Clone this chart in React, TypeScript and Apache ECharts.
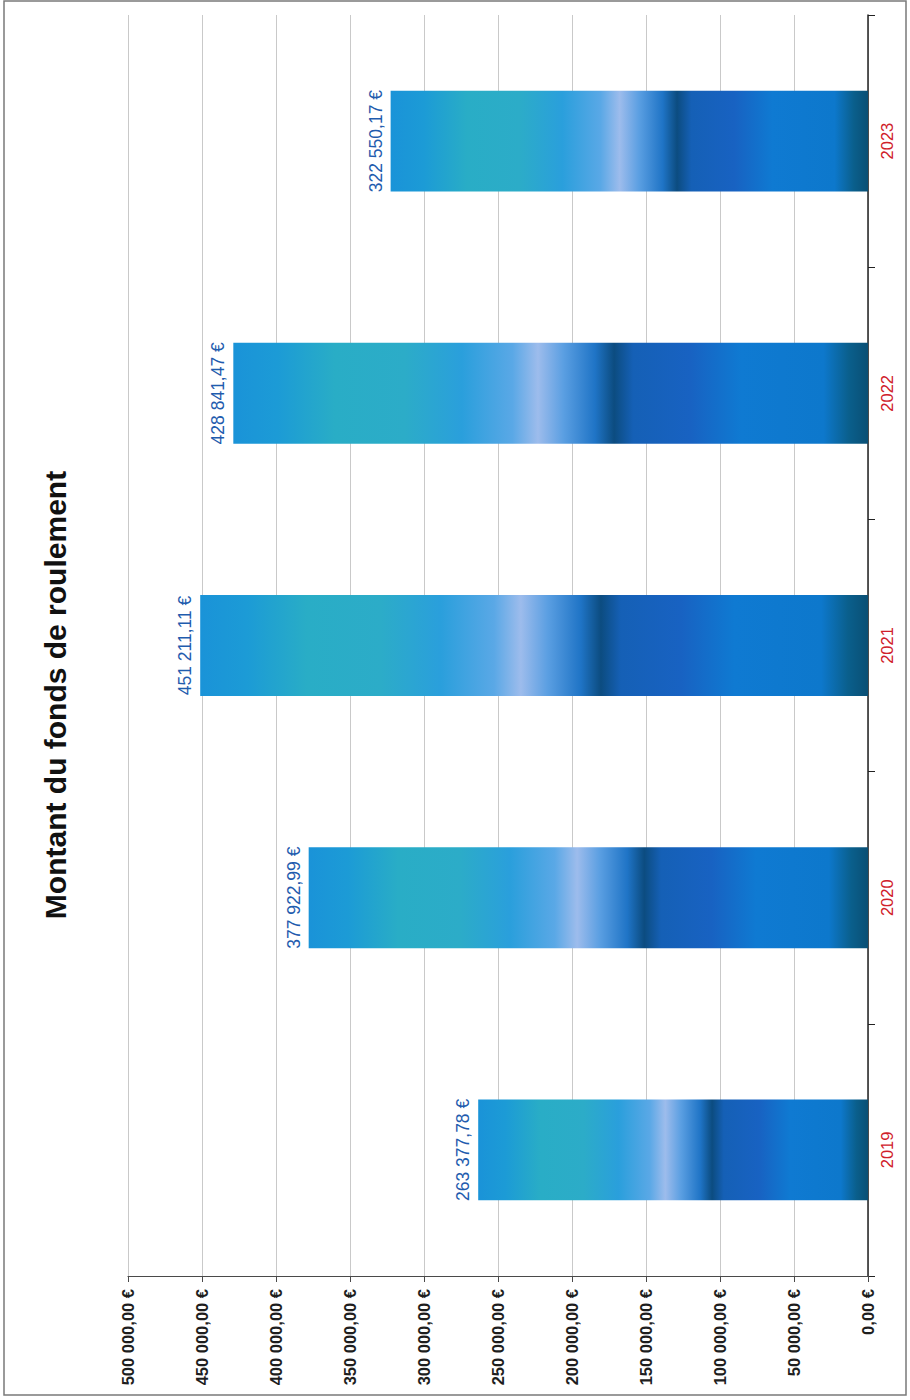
import React, { useEffect, useRef } from "react";
import * as echarts from "echarts";

const years = ["2019", "2020", "2021", "2022", "2023"];
const amounts = [263377.78, 377922.99, 451211.11, 428841.47, 322550.17];
const axisMin = 0;
const axisMax = 500000;
const axisStep = 50000;
const title = "Montant du fonds de roulement";

const fr = (v: number) => {
  const [i, d] = v.toFixed(2).split(".");
  return i.replace(/\B(?=(\d{3})+(?!\d))/g, " ") + "," + d + " €";
};

const barGradient = new echarts.graphic.LinearGradient(0, 0, 1, 0, [
  { offset: 0, color: "#1a93d8" },
  { offset: 0.07, color: "#1c9bd6" },
  { offset: 0.16, color: "#29adc6" },
  { offset: 0.27, color: "#2cacc8" },
  { offset: 0.36, color: "#2a9fdc" },
  { offset: 0.44, color: "#5aa8e6" },
  { offset: 0.48, color: "#9dbcec" },
  { offset: 0.52, color: "#5b9fe2" },
  { offset: 0.57, color: "#1f74c6" },
  { offset: 0.6, color: "#0c4c80" },
  { offset: 0.63, color: "#1560b6" },
  { offset: 0.72, color: "#1862c2" },
  { offset: 0.8, color: "#0f7ad2" },
  { offset: 0.93, color: "#0d78cc" },
  { offset: 0.97, color: "#0a5f8c" },
  { offset: 1, color: "#0a4f74" },
]);

export default function App() {
  const ref = useRef<HTMLDivElement>(null);
  useEffect(() => {
    if (!ref.current) return;
    const chart = echarts.init(ref.current, undefined, { renderer: "svg" });
    chart.setOption({
      animation: false,
      backgroundColor: "#ffffff",
      textStyle: { fontFamily: "Liberation Sans, Arial, sans-serif" },
      grid: { left: 128, right: 42, top: 15, bottom: 124, containLabel: false },
      xAxis: {
        type: "value",
        inverse: true,
        min: axisMin,
        max: axisMax,
        interval: axisStep,
        position: "bottom",
        axisLine: { show: true, lineStyle: { color: "#4a4a4a", width: 1.2 } },
        axisTick: { show: true, length: 6, lineStyle: { color: "#4a4a4a" } },
        axisLabel: {
          rotate: 90,
          margin: 13,
          color: "#1e1e1e",
          fontWeight: "bold",
          fontSize: 16.5,
          formatter: (v: number) => fr(v),
        },
        splitLine: { show: true, lineStyle: { color: "#c9c9c9", width: 1 } },
      },
      yAxis: {
        type: "category",
        data: years,
        position: "right",
        axisLine: { show: true, lineStyle: { color: "#222222", width: 1.5 } },
        axisTick: { show: true, length: 7, lineStyle: { color: "#222222" } },
        axisLabel: { rotate: 90, margin: 10, color: "#d0202a", fontSize: 16.5 },
        splitLine: { show: false },
      },
      series: [
        {
          type: "bar",
          data: amounts,
          barWidth: "40%",
          itemStyle: { color: barGradient },
          label: {
            show: true,
            position: "left",
            distance: 6,
            rotate: 90,
            align: "center",
            verticalAlign: "bottom",
            color: "#1f5cae",
            fontSize: 17.5,
            formatter: (p: any) => fr(p.value),
          },
        },
      ],
      graphic: [
        {
          type: "rect",
          shape: { x: 4, y: 1, width: 902, height: 1394 },
          style: { fill: "none", stroke: "#7a7a7a", lineWidth: 1.5 },
          silent: true,
        },
        {
          type: "text",
          x: 55,
          y: 695,
          rotation: Math.PI / 2,
          style: {
            text: title,
            fill: "#111111",
            font: "bold 30px 'Liberation Sans', Arial, sans-serif",
            textAlign: "center",
            textVerticalAlign: "middle",
          },
        },
      ],
    });
    return () => chart.dispose();
  }, []);
  return (
    <div
      ref={ref}
      style={{ position: "fixed", left: 0, top: 0, width: 910, height: 1400 }}
    />
  );
}
